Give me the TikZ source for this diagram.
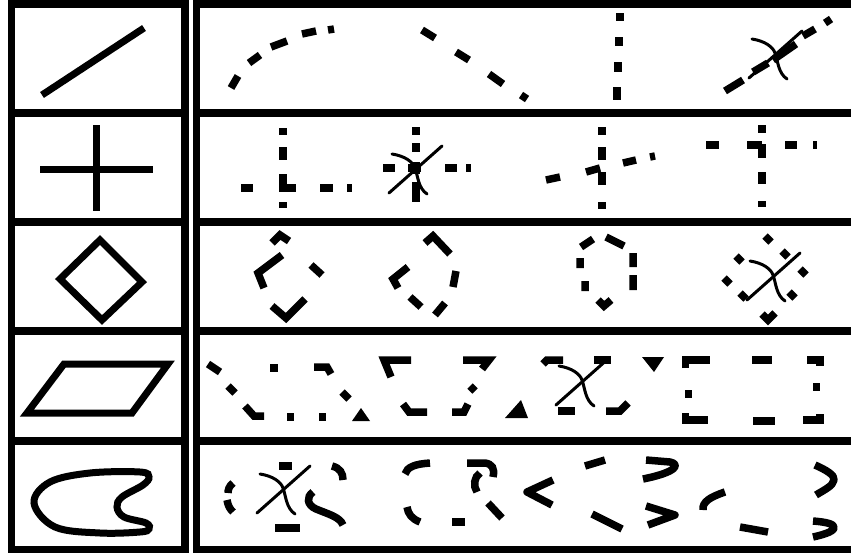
\documentclass[tikz,border=0pt]{standalone}
\usepackage{tikz}
\newcommand{\crossout}[1]{%
  \begin{scope}[shift={#1}]
    \draw[xline] (-26,25) -- (27,-22);
    \draw[xline] (-23,-14) .. controls (-10,-12) and (-2,-6) .. (0,0)
      .. controls (3,8) and (3,20) .. (12,26);
  \end{scope}}

\begin{document}
\begin{tikzpicture}[x=1pt, y=-1pt,
    frame/.style={line width=7.5pt},
    outline/.style={line width=7pt, line join=miter},
    bit/.style={line width=7.5pt},
    soft/.style={line width=7.5pt, line join=round},
    xline/.style={line width=3pt, line cap=round}]
    \useasboundingbox (0,0) rectangle (851,554);

    % Frame
    \draw[frame] (11.5,4) rectangle (185,549.5);
    \draw[frame] (851,4) -- (196.5,4) -- (196.5,549.5) -- (851,549.5);
    \foreach \y in {113,222,331,441} {
        \draw[frame] (11.5,\y) -- (185,\y);
        \draw[frame] (196.5,\y) -- (851,\y);
    }

    % Model shapes
    \draw[outline] (42,95) -- (144,28);
    \draw[outline] (40,169) -- (153,169) (96,125) -- (96,211);
    \draw[outline] (100,240) -- (142,282) -- (102,320) -- (60,279) -- cycle;
    \draw[outline] (64,364) -- (168,364) -- (132,413) -- (27,413) -- cycle;
    \draw[outline] plot[smooth cycle, tension=0.6] coordinates {(34,503) (50,482) (90,473) (140,472) (149,477) (143,485) (122,497) (117,507) (124,517) (146,523) (149,529) (140,532) (100,533) (55,527)};

    % Row 1: lines
    \draw[bit] (231,88) -- (238,76) (249,63) -- (260,55) (271,47) -- (287,41) (302,34) -- (316,31) (328,30) -- (334,29);
    \draw[bit] (422,30) -- (435,38) (456,52) -- (469,60) (489,74) -- (503,84) (521,95) -- (527,99);
    \draw[bit] (620,13) -- (620,21) (619,37) -- (619,46) (618,62) -- (618,72) (617,87) -- (617,100);
    \draw[bit] (725,91) -- (743,80) (753,72) -- (768,63) (773,60) -- (796,44) (803,36) -- (815,29) (825,23) -- (831,19);
    \crossout{(775,53)}

    % Row 2: crosses
    \draw[bit] (283,128) -- (283,135) (283,147) -- (283,160) (283,174) -- (283,192) (283,202) -- (283,208);
    \draw[bit] (241,188) -- (253,188) (280,188) -- (296,188) (320,188) -- (333,188) (347,188) -- (352,188);
    \draw[bit] (416,127) -- (416,135) (416,143) -- (416,152) (416,162) -- (416,174) (416,182) -- (416,202);
    \draw[bit] (383,168) -- (395,168) (408,168) -- (421,168) (445,168) -- (457,168) (466,168) -- (471,168);
    \crossout{(415,168)}
    \draw[bit] (602,127) -- (602,135) (602,147) -- (602,160) (602,172) -- (602,185) (602,202) -- (602,209);
    \draw[bit] (546,180) -- (560,177) (586,172) -- (600,168) (623,163) -- (636,160) (650,157) -- (655,156);
    \draw[bit] (762,125) -- (762,133) (762,144) -- (762,158) (762,172) -- (762,184) (762,201) -- (762,207);
    \draw[bit] (706,145) -- (719,145) (747,145) -- (762,145) (785,145) -- (797,145) (813,145) -- (817,145);

    % Row 3: diamonds
    \draw[bit] (272,243) -- (280,235) -- (289,241);
    \draw[bit] (282,255) -- (258,273) -- (264,288);
    \draw[bit] (311,265) -- (322,275);
    \draw[bit] (272,306) -- (286,318) -- (305,299);
    \draw[bit] (425,243) -- (433,236) -- (450,254);
    \draw[bit] (408,267) -- (393,279) -- (398,288);
    \draw[bit] (456,271) -- (453,287);
    \draw[bit] (410,297) -- (421,307);
    \draw[bit] (435,315) -- (445,303);
    \draw[bit] (581,247) -- (593,239) (606,237) -- (624,246) (580,258) -- (580,268) (633,253) -- (633,267) (585,281) -- (585,291) (633,275) -- (633,290);
    \draw[bit] (598,300) -- (604,306) -- (611,300);
    \draw[bit] (765,236) -- (771,242) (736,256) -- (742,262) (724,278) -- (730,284) (740,293) -- (746,299) (782,251) -- (788,257) (800,269) -- (806,275) (789,292) -- (795,298);
    \draw[bit] (762,314) -- (768,320) -- (775,313);
    \crossout{(773,275)}

    % Row 4: parallelograms
    \draw[bit] (208,364) -- (220,372);
    \draw[bit] (270,368) -- (278,368);
    \draw[bit] (314,367) -- (327,367) -- (331,374);
    \draw[bit] (228,386) -- (235,393);
    \draw[bit] (342,392) -- (349,399);
    \draw[bit] (245,406) -- (254,416) -- (264,416);
    \draw[bit] (287,417) -- (294,417) (319,417) -- (326,417);
    \fill (352,421) -- (361,408) -- (370,421) -- cycle;
    \draw[bit] (391,377) -- (384,360) -- (411,360);
    \draw[bit] (463,360) -- (489,360) -- (482,369);
    \draw[bit] (470,386) -- (475,391);
    \draw[bit] (403,404) -- (409,412) -- (427,412);
    \draw[bit] (452,412) -- (464,412) -- (468,404);
    \fill (505,418) -- (521,400) -- (528,418) -- cycle;
    \draw[bit] (543,364) -- (547,360) -- (563,360);
    \draw[bit] (594,360) -- (611,360);
    \fill (642,357) -- (664,357) -- (654,372) -- cycle;
    \draw[bit] (558,411) -- (575,411);
    \draw[bit] (606,411) -- (620,411) -- (628,403);
    \crossout{(582,380)}
    \draw[bit] (685.5,368) -- (685.5,360) -- (710,360);
    \draw[bit] (752,360) -- (772,360);
    \draw[bit] (807,360) -- (820,360) -- (820,366);
    \draw[bit] (685,394) -- (692,394) (813,387) -- (820,387);
    \draw[bit] (685.5,413) -- (685.5,420) -- (708,420);
    \draw[bit] (753,421) -- (775,421);
    \draw[bit] (803,420) -- (820,420) -- (820,414);

    % Row 5: blobs
    \draw[bit] (233,483) .. controls (229,486) and (228,490) .. (228,493);
    \draw[bit] (227,500) .. controls (228,506) and (230,509) .. (233,512);
    \draw[bit] (279,466) -- (292,466);
    \draw[bit] (332,466) .. controls (340,468) and (343,473) .. (343,480);
    \draw[bit] (313,492) .. controls (306,497) and (307,505) .. (316,509) .. controls (328,514) and (340,517) .. (343,525);
    \draw[bit] (275,528) -- (300,528);
    \crossout{(283,488)}
    \draw[bit] (405,474) .. controls (407,467) and (415,464) .. (430,463);
    \draw[bit] (407,507) .. controls (408,514) and (412,519) .. (420,522);
    \draw[bit] (452,522) -- (465,522);
    \draw[bit] (467,463) -- (485,463) .. controls (492,464) and (495,468) .. (493,477);
    \draw[bit] (480,473) .. controls (474,477) and (473,486) .. (477,492);
    \draw[bit] (488,503) -- (502,518);
    \draw[soft] (553,480) -- (527,492) -- (552,505);
    \draw[bit] (585,466) -- (605,460);
    \draw[soft] (646,460) -- (670,462) .. controls (680,464) and (678,472) .. (643,479);
    \draw[bit] (592,514) -- (622,529);
    \draw[soft] (646,506) -- (675,515) -- (648,525);
    \draw[bit] (725,492) .. controls (710,497) and (702,502) .. (703,510);
    \draw[bit] (740,527) -- (768,532);
    \draw[soft] (815,465) .. controls (826,470) and (835,475) .. (834,480) .. controls (833,486) and (824,490) .. (816,495);
    \draw[soft] (813,521) .. controls (826,522) and (835,524) .. (834,528) .. controls (833,532) and (822,535) .. (813,537);
\end{tikzpicture}
\end{document}
